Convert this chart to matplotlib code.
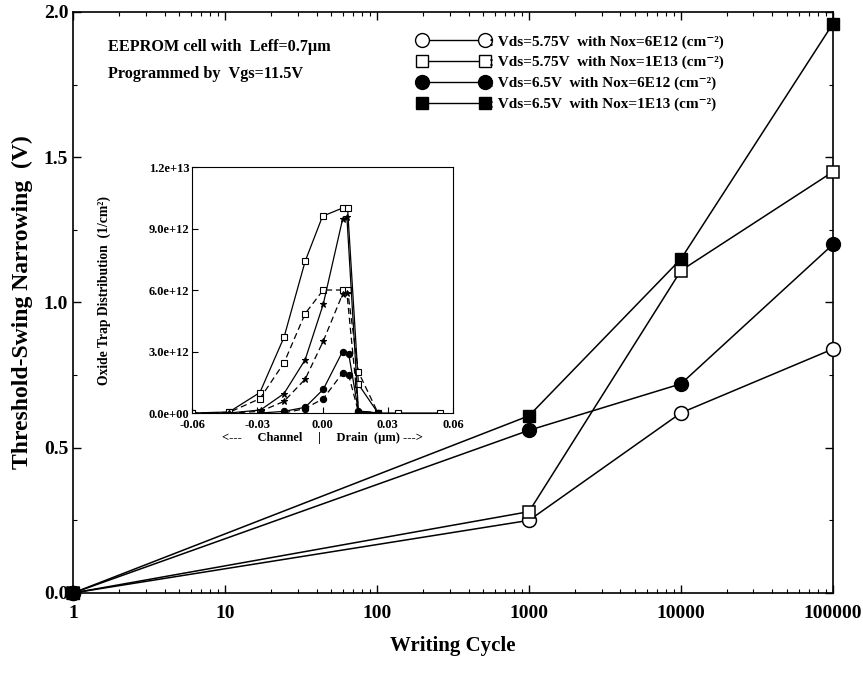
import matplotlib
matplotlib.use('Agg')
import matplotlib.pyplot as plt
from matplotlib.lines import Line2D

# ── Style ────────────────────────────────────────────────────
plt.rcParams.update({
    'font.family': ['Liberation Serif', 'DejaVu Serif'],
    'font.weight': 'bold',
    'mathtext.fontset': 'stix',
    'xtick.direction': 'in',
    'ytick.direction': 'in',
})

# ── Main data ────────────────────────────────────────────────
cycles = [1, 1000, 10000, 100000]
open_circle = [0.0, 0.25, 0.62, 0.84]    # Vds=5.75V, Nox=6E12
open_square = [0.0, 0.28, 1.11, 1.45]    # Vds=5.75V, Nox=1E13
filled_circle = [0.0, 0.56, 0.72, 1.20]  # Vds=6.5V,  Nox=6E12
filled_square = [0.0, 0.61, 1.15, 1.96]  # Vds=6.5V,  Nox=1E13

x_ticks = [1, 10, 100, 1000, 10000, 100000]
x_ticklabels = ['1', '10', '100', '1000', '10000', '100000']
y_ticks = [0.0, 0.5, 1.0, 1.5, 2.0]

legend_labels = [
    ': Vds=5.75V  with Nox=6E12 (cm\u207b\u00b2)',
    ': Vds=5.75V  with Nox=1E13 (cm\u207b\u00b2)',
    ': Vds=6.5V  with Nox=6E12 (cm\u207b\u00b2)',
    ': Vds=6.5V  with Nox=1E13 (cm\u207b\u00b2)',
]

# ── Inset data (oxide trap distribution) ─────────────────────
pos_sq1 = [-0.06, -0.043, -0.0288, -0.0177, -0.008, 0.0, 0.0092, 0.0115, 0.0165, 0.0255, 0.0345, 0.054]
trap_sq1 = [0, 0.05e12, 1.0e12, 3.7e12, 7.4e12, 9.6e12, 1.0e13, 1.0e13, 1.4e12, 0, 0, 0]
pos_sq2 = [-0.06, -0.043, -0.0288, -0.0177, -0.008, 0.0003, 0.0092, 0.0115, 0.0165, 0.0255]
trap_sq2 = [0, 0.03e12, 0.7e12, 2.45e12, 4.85e12, 6.0e12, 6.0e12, 6.0e12, 2.0e12, 0]
pos_st1 = [-0.043, -0.0285, -0.0177, -0.008, 0.0003, 0.0092, 0.0112, 0.0165, 0.0255]
trap_st1 = [0, 0.15e12, 0.95e12, 2.6e12, 5.3e12, 9.45e12, 9.55e12, 0.1e12, 0]
pos_st2 = [-0.043, -0.0285, -0.0177, -0.008, 0.0003, 0.0092, 0.0112, 0.0165, 0.0255]
trap_st2 = [0, 0.08e12, 0.57e12, 1.65e12, 3.5e12, 5.8e12, 5.85e12, 0.1e12, 0]
pos_ci1 = [-0.0285, -0.0177, -0.008, 0.0003, 0.0092, 0.012, 0.0165, 0.0255]
trap_ci1 = [0, 0.08e12, 0.28e12, 1.15e12, 3.0e12, 2.9e12, 0.08e12, 0]
pos_ci2 = [-0.0177, -0.008, 0.0003, 0.0092, 0.012, 0.0165, 0.0255]
trap_ci2 = [0, 0.22e12, 0.7e12, 1.95e12, 1.85e12, 0.05e12, 0]

inset_xticks = [-0.06, -0.03, 0.0, 0.03, 0.06]
inset_xticklabels = ['-0.06', '-0.03', '0.00', '0.03', '0.06']
inset_yticks = [0, 3e12, 6e12, 9e12, 1.2e13]
inset_yticklabels = ['0.0e+00', '3.0e+12', '6.0e+12', '9.0e+12', '1.2e+13']

# ── Figure ───────────────────────────────────────────────────
fig = plt.figure(figsize=(8.63, 6.74), dpi=100)
ax = fig.add_axes([0.0846, 0.1202, 0.8806, 0.862])

lw = 1.1
ax.plot(cycles, open_circle, '-o', color='black', lw=lw, ms=10, mfc='white', mec='black', mew=1.1, clip_on=False, zorder=3)
ax.plot(cycles, open_square, '-s', color='black', lw=lw, ms=9, mfc='white', mec='black', mew=1.1, clip_on=False, zorder=3)
ax.plot(cycles, filled_circle, '-o', color='black', lw=lw, ms=10, mfc='black', mec='black', clip_on=False, zorder=4)
ax.plot(cycles, filled_square, '-s', color='black', lw=lw, ms=9, mfc='black', mec='black', clip_on=False, zorder=4)

ax.set_xscale('log')
ax.set_xlim(1, 100000)
ax.set_ylim(0, 2.0)
ax.set_xticks(x_ticks)
ax.set_xticklabels(x_ticklabels)
ax.set_yticks(y_ticks)
ax.set_yticks([0.25, 0.75, 1.25, 1.75], minor=True)
ax.tick_params(which='both', top=True, right=True, labelsize=14)
ax.tick_params(which='major', length=6, width=1)
ax.tick_params(which='minor', length=3, width=0.8)
ax.tick_params(axis='x', pad=9)
for lab in ax.get_xticklabels() + ax.get_yticklabels():
    lab.set_fontweight('bold')
for s in ax.spines.values():
    s.set_linewidth(1.2)

ax.set_xlabel('Writing Cycle', fontsize=15, fontweight='bold', labelpad=10)
ax.set_ylabel('Threshold-Swing Narrowing  (V)', fontsize=17, fontweight='bold', labelpad=8)

fig.text(0.125, 0.925, 'EEPROM cell with  Leff=0.7\u00b5m', fontsize=11.7, fontweight='bold')
fig.text(0.125, 0.885, 'Programmed by  Vgs=11.5V', fontsize=11.7, fontweight='bold')

handles = [
    Line2D([], [], color='black', lw=1, marker='o', ms=10, mfc='white', mec='black'),
    Line2D([], [], color='black', lw=1, marker='s', ms=9, mfc='white', mec='black'),
    Line2D([], [], color='black', lw=1, marker='o', ms=10, mfc='black', mec='black'),
    Line2D([], [], color='black', lw=1, marker='s', ms=9, mfc='black', mec='black'),
]
fig.legend(handles, legend_labels, loc='upper left', bbox_to_anchor=(0.468, 0.969),
           frameon=False, numpoints=2, handlelength=4.7, handletextpad=0.0,
           labelspacing=0.46, prop={'family': ['Liberation Serif', 'DejaVu Serif'], 'weight': 'bold', 'size': 11})

# ── Inset ────────────────────────────────────────────────────
ins = fig.add_axes([0.2225, 0.3872, 0.3025, 0.365])
kw = dict(color='black', lw=0.9, ms=4.5, mew=0.8)
ins.plot(pos_sq1, trap_sq1, '-s', mfc='white', mec='black', **kw)
ins.plot(pos_sq2, trap_sq2, '--s', mfc='white', mec='black', dashes=(5, 3), **kw)
ins.plot(pos_st1, trap_st1, '-*', mfc='black', mec='black', **kw)
ins.plot(pos_st2, trap_st2, '--*', mfc='black', mec='black', dashes=(5, 3), **kw)
ins.plot(pos_ci1, trap_ci1, '-o', mfc='black', mec='black', **kw)
ins.plot(pos_ci2, trap_ci2, '--o', mfc='black', mec='black', dashes=(5, 3), **kw)

ins.set_xlim(-0.06, 0.06)
ins.set_ylim(0, 1.2e13)
ins.set_xticks(inset_xticks)
ins.set_xticklabels(inset_xticklabels)
ins.set_yticks(inset_yticks)
ins.set_yticklabels(inset_yticklabels)
ins.tick_params(labelsize=9, length=4, width=0.8, pad=2)
ins.tick_params(axis='x', pad=4)
for lab in ins.get_xticklabels() + ins.get_yticklabels():
    lab.set_fontweight('bold')
ins.set_xlabel('<---     Channel     |     Drain  (\u00b5m) --->', fontsize=9, fontweight='bold', labelpad=1)
ins.set_ylabel('Oxide Trap Distribution  (1/cm\u00b2)', fontsize=9.8, fontweight='bold', labelpad=27)

fig.savefig('out.png', dpi=100, facecolor='white')
